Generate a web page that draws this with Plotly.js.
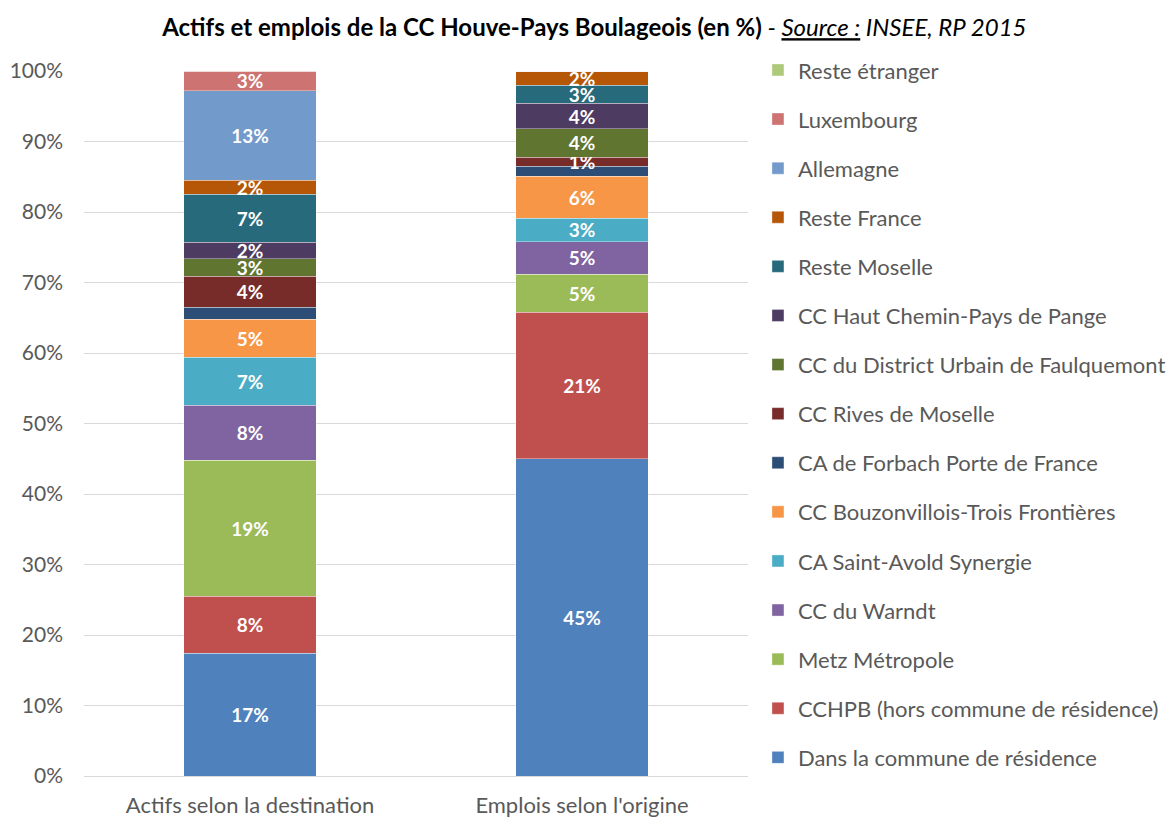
<!DOCTYPE html>
<html>
<head>
<meta charset="utf-8">
<script src="https://cdn.plot.ly/plotly-3.0.1.min.js"></script>
<style>html,body{margin:0;padding:0;background:#fff;}#chart{width:1170px;height:817px;}</style>
</head>
<body>
<div id="chart"></div>
<script>
// Categories (bars)
const categories = ["Actifs selon la destination", "Emplois selon l'origine"];

// Series (bottom to top of the stack)
const seriesNames = [
  "Dans la commune de résidence",
  "CCHPB (hors commune de résidence)",
  "Metz Métropole",
  "CC du Warndt",
  "CA Saint-Avold Synergie",
  "CC Bouzonvillois-Trois Frontières",
  "CA de Forbach Porte de France",
  "CC Rives de Moselle",
  "CC du District Urbain de Faulquemont",
  "CC Haut Chemin-Pays de Pange",
  "Reste Moselle",
  "Reste France",
  "Allemagne",
  "Luxembourg",
  "Reste étranger"
];

// Shares in % for each series, per bar
const actifs   = [17.4, 8.1, 19.3, 7.8, 6.8, 5.4, 1.7, 4.4, 2.5, 2.3, 6.8, 2.0, 12.7, 2.8, 0];
const emplois  = [45.0, 20.8, 5.4, 4.6, 3.3, 6.0, 1.4, 1.3, 4.0, 3.6, 2.6, 2.0, 0, 0, 0];

// Whether the data label is shown (per series), per bar
const showLabelActifs  = [1,1,1,1,1,1,0,1,1,1,1,1,1,1,0];
const showLabelEmplois = [1,1,1,1,1,1,0,1,1,1,1,1,0,0,0];

const colors = [
  "#4f81bd", "#c0504d", "#9bbb59", "#8064a2", "#4bacc6", "#f79646",
  "#2c4d75", "#772c2a", "#5f7530", "#4d3b62", "#276a7c", "#b65708",
  "#729aca", "#cd7371", "#afc97a"
];

const FONT = "Lato, 'Open Sans', sans-serif";

const traces = seriesNames.map((name, i) => {
  const vals = [actifs[i], emplois[i]];
  const shows = [showLabelActifs[i], showLabelEmplois[i]];
  return {
    type: "bar",
    name: name,
    legendgroup: "g" + i,
    legendrank: 1000 - i,
    x: categories,
    y: vals.map(v => v / 100),
    text: vals.map((v, k) => (shows[k] && v > 0) ? Math.round(v) + "%" : ""),
    textposition: "inside",
    insidetextanchor: "middle",
    textangle: 0,
    constraintext: "none",
    textfont: {family: FONT, size: 19, color: "#ffffff", weight: "bold"},
    marker: {color: colors[i], line: {color: "rgba(255,255,255,0.6)", width: 0.6}},
    width: 0.4,
    hoverinfo: "name+y"
  };
});

const layout = {
  width: 1170,
  height: 817,
  barmode: "stack",
  paper_bgcolor: "#ffffff",
  plot_bgcolor: "#ffffff",
  font: {family: FONT, color: "#595959", size: 18},
  margin: {l: 84, r: 422, t: 71, b: 41, autoexpand: false},
  title: {
    text: "<b>Actifs et emplois de la CC Houve-Pays Boulageois (en %)</b><i> - <u>Source :</u> INSEE, RP 2015</i>",
    font: {family: FONT, size: 24, color: "#000000"},
    x: 0.508, xanchor: "center",
    y: 0.966, yanchor: "middle"
  },
  xaxis: {
    type: "category",
    range: [-0.5, 1.5],
    showgrid: false,
    showline: true,
    linecolor: "#d9d9d9",
    linewidth: 1,
    ticks: "",
    tickfont: {family: FONT, size: 22, color: "#595959"},
    ticklabelstandoff: 10
  },
  yaxis: {
    range: [0, 1],
    tickvals: [0, 0.1, 0.2, 0.3, 0.4, 0.5, 0.6, 0.7, 0.8, 0.9, 1.0],
    tickformat: ".0%",
    showgrid: true,
    gridcolor: "#d9d9d9",
    gridwidth: 1,
    zeroline: false,
    showline: false,
    ticks: "",
    tickfont: {family: FONT, size: 21, color: "#595959"},
    ticklabelstandoff: 20
  },
  legend: {
    traceorder: "grouped",
    tracegroupgap: 17.5,
    x: 1.015, xanchor: "left",
    y: 1.031, yanchor: "top",
    maxheight: 800,
    font: {family: FONT, size: 22, color: "#595959"},
    itemwidth: 30,
    bgcolor: "rgba(0,0,0,0)"
  },
  showlegend: true
};

Plotly.newPlot("chart", traces, layout, {displayModeBar: false, staticPlot: true});
</script>
</body>
</html>
